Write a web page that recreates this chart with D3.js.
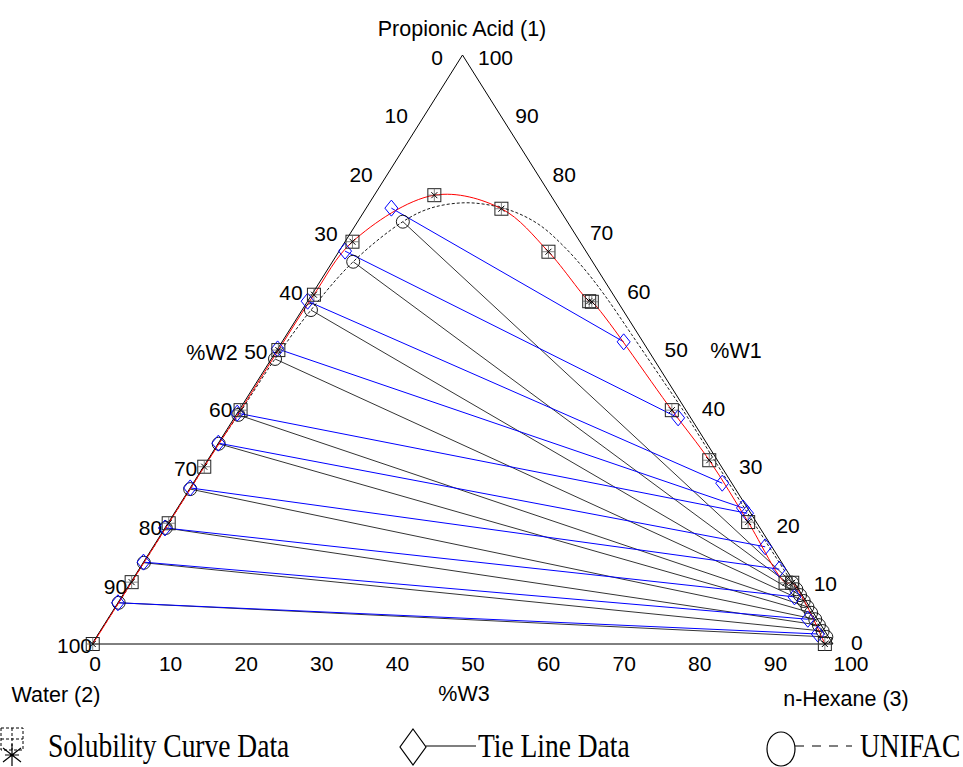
<!DOCTYPE html>
<html><head><meta charset="utf-8">
<script src="https://cdn.jsdelivr.net/npm/d3@7"></script>
<style>
body{margin:0;background:#fff}
svg{display:block}
text{font-family:"Liberation Sans",Arial,sans-serif;fill:#000}
.leg{font-family:"Liberation Serif","Times New Roman",serif}
</style>
</head><body>
<svg id="c" width="963" height="767"></svg>
<script>
// ---------- data (mass %, W1 = propionic acid, W3 = n-hexane, W2 = 100 - W1 - W3) ----------
const tickValues = [0,10,20,30,40,50,60,70,80,90,100];

// Solubility curve (experimental)
const solW1 = [0, 10.5, 20.5, 30.1, 39.7, 49.9, 59.3, 68.3, 76.2, 73.9, 66.6, 58.2, 58.1, 39.7, 31.2, 20.7, 10.4, 10.4, 0];
const solW3 = [0.1, 0.1, 0.1, 0.1, 0.2, 0.2, 0.3, 1.0, 8.1, 18.3, 28.3, 38.0, 38.4, 58.4, 67.7, 78.2, 88.4, 89.3, 98.9];

// Experimental tie lines: water-rich (L) and hexane-rich (R) ends
const tieLW1 = [74.0, 66.7, 58.2, 50.1, 39.2, 34.1, 26.5, 19.7, 13.9, 7.0];
const tieLW3 = [3.4, 0.8, 0.0, 0.0, 0.0, 0.0, 0.0, 0.0, 0.0, 0.0];
const tieRW1 = [51.3, 38.4, 27.3, 23.1, 22.2, 16.5, 12.7, 8.0, 4.2, 1.7];
const tieRW3 = [46.1, 59.9, 71.4, 76.3, 77.3, 82.6, 86.4, 90.8, 94.5, 97.1];

// UNIFAC tie lines
const uniLW1 = [71.7, 64.9, 56.7, 48.4, 38.9, 34.0, 26.3, 19.7, 13.8, 7.0];
const uniLW3 = [6.1, 2.8, 1.2, 0.5, 0.3, 0.1, 0.1, 0.1, 0.1, 0.1];
const uniRW1 = [10.4, 9.3, 8.3, 7.3, 6.3, 5.3, 4.2, 3.2, 2.2, 1.2];
const uniRW3 = [89.3, 90.4, 91.4, 92.4, 93.4, 94.4, 95.5, 96.5, 97.5, 98.5];

// UNIFAC binodal curve
const uniCurveW1 = [0, 7.0, 13.8, 19.7, 26.3, 34.0, 38.9, 48.4, 56.7, 64.9, 71.7, 74.0, 74.9, 74.5, 73.3, 71.1, 67.6, 63.5, 59.1, 52.5, 45, 40, 30, 20, 10.4, 9.3, 8.3, 7.3, 6.3, 5.3, 4.2, 3.2, 2.2, 1.2, 0];
const uniCurveW3 = [0, 0.1, 0.1, 0.1, 0.1, 0.1, 0.3, 0.5, 1.2, 2.8, 6.1, 8.7, 12.6, 16.5, 20.5, 24.9, 29.8, 34.8, 39.7, 46.6, 54.4, 59.6, 69.6, 79.6, 89.3, 90.4, 91.4, 92.4, 93.4, 94.4, 95.5, 96.5, 97.5, 98.5, 99.7];

// ---------- scales ----------
const svg = d3.select("#c");
const xS = d3.scaleLinear().domain([0,100]).range([92,833]);
const yS = d3.scaleLinear().domain([0,100]).range([644,55]);
const P = (w1,w3) => [xS(w3 + w1/2), yS(w1)];

// label placement scales
const lLabX = d3.scaleLinear().domain([0,100]).range([443,92]);
const lLabY = d3.scaleLinear().domain([0,100]).range([57,645]);
const rLabX = d3.scaleLinear().domain([100,0]).range([478,851]);
const rLabY = d3.scaleLinear().domain([100,0]).range([57,642]);
const bLabX = d3.scaleLinear().domain([0,100]).range([95,851]);

const line = d3.line();

// triangle
svg.append("path")
  .attr("d", line([P(100,0), P(0,0), P(0,100)]) + "Z")
  .attr("fill","none").attr("stroke","#000").attr("stroke-width",1);

// tick labels
const tl = svg.append("g").attr("font-size",21);
tl.selectAll(".lt").data(tickValues).join("text")
  .attr("x", d=>lLabX(d)).attr("y", d=>lLabY(d)).attr("dy","0.36em")
  .attr("text-anchor","end").text(d=>d);
tl.selectAll(".rt").data(tickValues).join("text")
  .attr("x", d=>rLabX(d)).attr("y", d=>rLabY(d)).attr("dy","0.36em")
  .attr("text-anchor","start").text(d=>d);
tl.selectAll(".bt").data(tickValues).join("text")
  .attr("x", d=>bLabX(d)).attr("y", 663).attr("dy","0.36em")
  .attr("text-anchor","middle").text(d=>d);

// axis titles
const titles = [
  {t:"Propionic Acid (1)", x:462, y:28, a:"middle"},
  {t:"%W2", x:212, y:352, a:"middle"},
  {t:"%W1", x:736, y:350, a:"middle"},
  {t:"%W3", x:464, y:693, a:"middle"},
  {t:"Water (2)", x:56, y:694, a:"middle"},
  {t:"n-Hexane (3)", x:846, y:698, a:"middle"}
];
svg.append("g").attr("font-size",21.5).selectAll("text").data(titles).join("text")
  .attr("x",d=>d.x).attr("y",d=>d.y).attr("dy","0.36em").attr("text-anchor",d=>d.a).text(d=>d.t);

// UNIFAC tie lines
const uniIdx = d3.range(uniLW1.length);
svg.append("g").selectAll("path").data(uniIdx).join("path")
  .attr("d", i=>line([P(uniLW1[i],uniLW3[i]), P(uniRW1[i],uniRW3[i])]))
  .attr("stroke","#000").attr("stroke-width",0.8).attr("fill","none");

// experimental tie lines
const tieIdx = d3.range(tieLW1.length);
svg.append("g").selectAll("path").data(tieIdx).join("path")
  .attr("d", i=>line([P(tieLW1[i],tieLW3[i]), P(tieRW1[i],tieRW3[i])]))
  .attr("stroke","#0000ff").attr("stroke-width",1).attr("fill","none");

// UNIFAC curve (dashed)
svg.append("path")
  .attr("d", d3.line().curve(d3.curveCatmullRom.alpha(0.5))(uniCurveW1.map((w,i)=>P(w,uniCurveW3[i]))))
  .attr("fill","none").attr("stroke","#000").attr("stroke-width",0.9).attr("stroke-dasharray","3,2");

// solubility curve (red)
svg.append("path")
  .attr("d", d3.line().curve(d3.curveCatmullRom.alpha(0.5))(solW1.map((w,i)=>P(w,solW3[i]))))
  .attr("fill","none").attr("stroke","#ff0000").attr("stroke-width",1);

// markers: UNIFAC circles
const circPts = uniIdx.map(i=>P(uniLW1[i],uniLW3[i])).concat(uniIdx.map(i=>P(uniRW1[i],uniRW3[i])));
svg.append("g").selectAll("circle").data(circPts).join("circle")
  .attr("cx",d=>d[0]).attr("cy",d=>d[1]).attr("r",6.5)
  .attr("fill","none").attr("stroke","#000").attr("stroke-width",0.9);

// markers: tie-line diamonds
const diaPts = tieIdx.map(i=>P(tieLW1[i],tieLW3[i])).concat(tieIdx.map(i=>P(tieRW1[i],tieRW3[i])));
svg.append("g").selectAll("path").data(diaPts).join("path")
  .attr("transform",d=>`translate(${d[0]},${d[1]})`)
  .attr("d","M0,-8L6.5,0L0,8L-6.5,0Z")
  .attr("fill","none").attr("stroke","#0000ff").attr("stroke-width",1);

// markers: solubility squares with asterisk
const sq = svg.append("g").selectAll("g").data(solW1.map((w,i)=>P(w,solW3[i]))).join("g")
  .attr("transform",d=>`translate(${d[0]},${d[1]})`);
sq.append("rect").attr("x",-6.5).attr("y",-6.5).attr("width",13).attr("height",13)
  .attr("fill","none").attr("stroke","#222").attr("stroke-width",1);
sq.append("path").attr("d","M0,-6.5V6.5M-6.5,0H6.5").attr("stroke","#666").attr("stroke-width",0.8);
sq.append("path").attr("d","M-3,-3L3,3M-3,3L3,-3").attr("stroke","#000").attr("stroke-width",1);

// ---------- legend ----------
const leg = svg.append("g");
const stretch = "translate(0,757) scale(1,1.25) translate(0,-757)";
// item 1
leg.append("rect").attr("x",1).attr("y",728).attr("width",22).attr("height",22)
  .attr("fill","none").attr("stroke","#000").attr("stroke-dasharray","3,2");
leg.append("path").attr("d","M12,728V750M1,739H23").attr("stroke","#000").attr("stroke-dasharray","3,2").attr("fill","none");
leg.append("path").attr("d","M12,744V766M3,748L21,762M3,762L21,748M5,755H19").attr("stroke","#000").attr("stroke-width",1.2);
leg.append("text").attr("class","leg").attr("x",48).attr("y",757).attr("font-size",27.5)
  .attr("transform",stretch).text("Solubility Curve Data");
// item 2
leg.append("path").attr("d","M413,729L426,747L413,765L400,747Z").attr("fill","none").attr("stroke","#000").attr("stroke-width",1.2);
leg.append("path").attr("d","M426,746H476").attr("stroke","#000").attr("stroke-width",1.2);
leg.append("text").attr("class","leg").attr("x",478).attr("y",757).attr("font-size",27.5)
  .attr("transform",stretch).text("Tie Line Data");
// item 3
leg.append("ellipse").attr("cx",781).attr("cy",749).attr("rx",14).attr("ry",17).attr("fill","none").attr("stroke","#000").attr("stroke-width",1.2);
leg.append("path").attr("d","M795,746H852").attr("stroke","#000").attr("stroke-width",1.2).attr("stroke-dasharray","9,8");
leg.append("text").attr("class","leg").attr("x",860).attr("y",757).attr("font-size",27.5)
  .attr("transform",stretch).text("UNIFAC");
</script>
</body></html>
